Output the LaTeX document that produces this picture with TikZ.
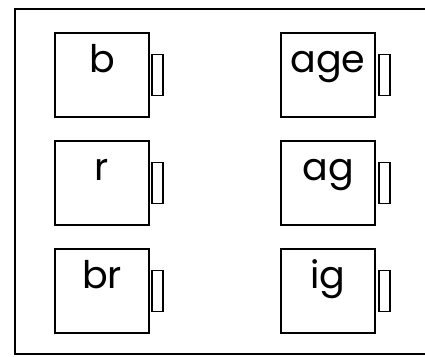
\documentclass[tikz,border=0pt]{standalone}
\usepackage{fontspec}
\setmainfont{Poppins}
\begin{document}
\begin{tikzpicture}[x=1pt,y=-1pt,
    box/.style={draw, line width=1.8pt, minimum width=94pt, minimum height=84pt, inner sep=0pt},
    tab/.style={draw, line width=1.8pt, minimum width=11pt, minimum height=41pt, inner sep=0pt, anchor=west},
    word/.style={font=\fontsize{38}{38}\selectfont, anchor=base, inner sep=0pt}]
	    \useasboundingbox (0,0) rectangle (425,356);
	    \draw[line width=2.8pt] (440,9) -- (15,9) -- (15,354) -- (440,354);
	    \node[box] (b) at (102,75) {};
	    \node[box] (r) at (102,183) {};
	    \node[box] (br) at (102,291) {};
	    \node[box] (age) at (328,75) {};
	    \node[box] (ag) at (328,183) {};
	    \node[box] (ig) at (328,291) {};
	    \node[tab] (b tab) at ([xshift=1pt]b.east) {};
	    \node[tab] (r tab) at ([xshift=1pt]r.east) {};
	    \node[tab] (br tab) at ([xshift=1pt]br.east) {};
	    \node[tab] (age tab) at ([xshift=2pt]age.east) {};
	    \node[tab] (ag tab) at ([xshift=2pt]ag.east) {};
	    \node[tab] (ig tab) at ([xshift=2pt]ig.east) {};
	    \node[word] (b text) at ([yshift=-40pt]b.north) {b};
	    \node[word] (r text) at ([yshift=-40pt]r.north) {r};
	    \node[word] (br text) at ([yshift=-40pt]br.north) {br};
	    \node[word] (age text) at ([yshift=-40pt]age.north) {age};
	    \node[word] (ag text) at ([yshift=-40pt]ag.north) {ag};
	    \node[word] (ig text) at ([yshift=-40pt]ig.north) {ig};
\end{tikzpicture}
\end{document}
